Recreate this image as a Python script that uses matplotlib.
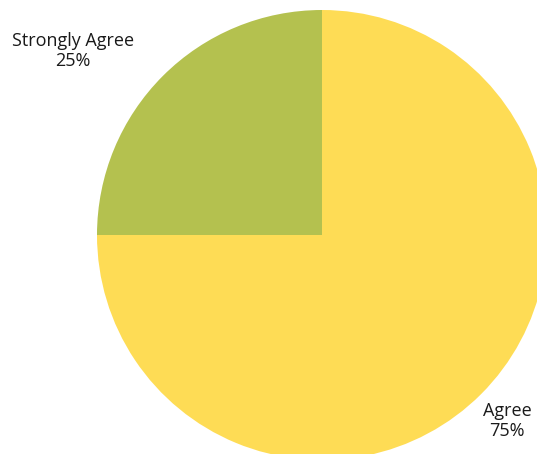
import numpy as np
import matplotlib
matplotlib.use("Agg")
import matplotlib.pyplot as plt

# Survey responses
labels = ["Agree", "Strongly Agree"]
shares = [75, 25]
colors = ["#FEDC55", "#B4C14F"]

W, H = 537, 454
fig = plt.figure(figsize=(W / 100, H / 100), dpi=100)
ax = fig.add_axes([0, 0, 1, 1])

cx, cy, r = 322, H - 235, 225
wedges, _ = ax.pie(shares, colors=colors, startangle=90, counterclock=False,
                   center=(cx, cy), radius=r, frame=True,
                   wedgeprops=dict(linewidth=0))
ax.set_xlim(0, W)
ax.set_ylim(0, H)
ax.set_aspect("equal")
ax.axis("off")

# label positions (pixels from the top-left)
label_pos = {"Agree": (507, 421), "Strongly Agree": (73, 51)}
for lab, val in zip(labels, shares):
    x, y = label_pos[lab]
    ax.text(x, H - y, f"{lab}\n{val}%", ha="center", va="center",
            fontsize=13, family="Open Sans", color="#1a1a1a", linespacing=1.2)

fig.savefig("out.png", dpi=100)
